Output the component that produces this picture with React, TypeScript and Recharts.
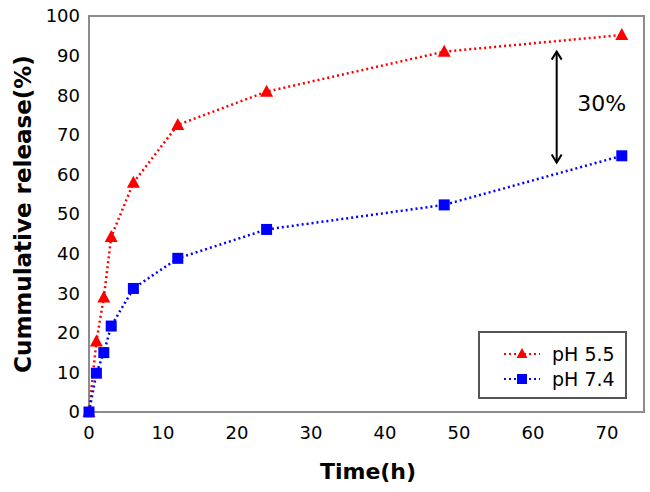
import {
  LineChart,
  Line,
  XAxis,
  YAxis,
  ReferenceArea,
  ReferenceLine,
  ReferenceDot,
  Legend,
  Label,
} from "recharts";

// Release time points (h) and cumulative release (%)
const hours = [0, 1, 2, 3, 6, 12, 24, 48, 72];
const ph55 = [0, 17.8, 28.9, 44.2, 57.9, 72.5, 80.9, 91, 95.2];
const ph74 = [0, 9.8, 15, 21.7, 31.2, 38.8, 46.1, 52.3, 64.7];
const xTicks = [0, 10, 20, 30, 40, 50, 60, 70];
const yTicks = [0, 10, 20, 30, 40, 50, 60, 70, 80, 90, 100];

const data = hours.map((h, i) => ({ time: h, acid: ph55[i], neutral: ph74[i] }));

const RED = "#ff0000";
const BLUE = "#0000ff";
const FONT = "'DejaVu Sans', sans-serif";

const Triangle = ({ cx, cy }: any) => (
  <path
    d={`M${cx},${cy - 7} L${cx + 6.5},${cy + 5} L${cx - 6.5},${cy + 5} Z`}
    fill={RED}
  />
);

const Square = ({ cx, cy }: any) => (
  <rect x={cx - 5.5} y={cy - 5.5} width={11} height={11} fill={BLUE} />
);

const LegendBox = () => (
  <div
    style={{
      width: 149,
      height: 68,
      boxSizing: "border-box",
      border: "2px solid #555",
      background: "#fff",
      fontFamily: FONT,
      fontSize: 19,
      padding: "8px 0 0 22px",
    }}
  >
    {[
      { name: "pH 5.5", color: RED, marker: "tri" },
      { name: "pH 7.4", color: BLUE, marker: "sq" },
    ].map((it) => (
      <div key={it.name} style={{ display: "flex", alignItems: "center", height: 25 }}>
        <svg width={40} height={16}>
          <line x1={2} y1={8} x2={38} y2={8} stroke={it.color} strokeWidth={2} strokeDasharray="2 3" />
          {it.marker === "tri" ? (
            <path d="M20,2 L25.5,12 L14.5,12 Z" fill={RED} />
          ) : (
            <rect x={15} y={3} width={10} height={10} fill={BLUE} />
          )}
        </svg>
        <span style={{ marginLeft: 10, color: "#000" }}>{it.name}</span>
      </div>
    ))}
  </div>
);

const Arrow = (p: any) => {
  const { x1, y1, x2, y2 } = p;
  const top = Math.min(y1, y2);
  const bot = Math.max(y1, y2);
  return (
    <g stroke="#000" strokeWidth={2} fill="none">
      <line x1={x1} y1={top} x2={x2} y2={bot} />
      <polyline points={`${x1 - 5},${top + 8} ${x1},${top} ${x1 + 5},${top + 8}`} />
      <polyline points={`${x1 - 5},${bot - 8} ${x1},${bot} ${x1 + 5},${bot - 8}`} />
    </g>
  );
};

export default function App() {
  return (
    <div style={{ position: "absolute", left: 0, top: 0 }}>
      <LineChart
        width={650}
        height={492}
        data={data}
        margin={{ top: 16, right: 6, left: 29, bottom: 40 }}
        style={{ fontFamily: FONT }}
      >
        <XAxis
          dataKey="time"
          type="number"
          domain={[0, 75]}
          ticks={xTicks}
          tickLine={false}
          axisLine={false}
          tickSize={0}
          tickMargin={14}
          height={40}
          tick={{ fill: "#000", fontSize: 18 }}
        >
          <Label
            content={() => (
              <text x={368} y={479} textAnchor="middle" fontSize={22} fontWeight="bold" fill="#000">
                Time(h)
              </text>
            )}
          />
        </XAxis>
        <YAxis
          type="number"
          domain={[0, 100]}
          ticks={yTicks}
          tickLine={false}
          axisLine={false}
          tickSize={0}
          tickMargin={9}
          width={60}
          tick={{ fill: "#000", fontSize: 18 }}
        >
          <Label
            content={() => (
              <text
                x={31}
                y={214}
                transform="rotate(-90 31 214)"
                textAnchor="middle"
                fontSize={23}
                fontWeight="bold"
                fill="#000"
              >
                Cummulative release(%)
              </text>
            )}
          />
        </YAxis>
        <ReferenceArea x1={0} x2={75} y1={0} y2={100} fill="none" stroke="#8c8c8c" strokeWidth={2} />
        <ReferenceLine segment={[{ x: 63.2, y: 91 }, { x: 63.2, y: 63 }]} shape={Arrow} />
        <ReferenceDot x={69.3} y={78} r={0} fill="none" stroke="none">
          <Label
            content={(p: any) => (
              <text x={p.viewBox.x} y={p.viewBox.y + 8} textAnchor="middle" fontSize={22} fill="#000">
                30%
              </text>
            )}
          />
        </ReferenceDot>
        <Line
          dataKey="acid"
          name="pH 5.5"
          stroke={RED}
          strokeWidth={2.5}
          strokeDasharray="2 3"
          dot={(props: any) => <Triangle key={props.index} {...props} />}
          isAnimationActive={false}
        />
        <Line
          dataKey="neutral"
          name="pH 7.4"
          stroke={BLUE}
          strokeWidth={2.5}
          strokeDasharray="2 3"
          dot={(props: any) => <Square key={props.index} {...props} />}
          isAnimationActive={false}
        />
        <Legend
          layout="horizontal"
          verticalAlign="middle"
          align="center"
          content={() => <LegendBox />}
          wrapperStyle={{ left: 478, top: 331, width: 149, height: 68 }}
        />
      </LineChart>
    </div>
  );
}
